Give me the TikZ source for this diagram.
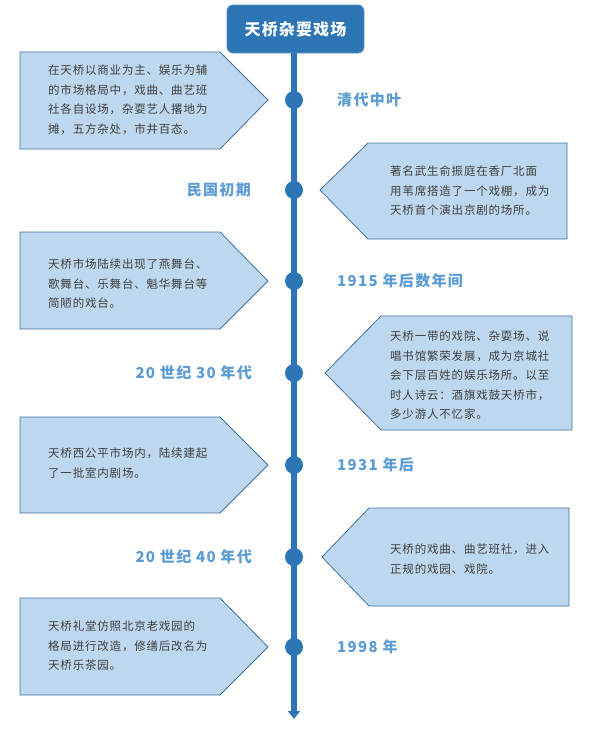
\documentclass[tikz,border=0pt]{standalone}
\usepackage{fontspec}
\setmainfont{Noto Sans CJK SC}
\usetikzlibrary{arrows.meta}
\definecolor{dblue}{HTML}{2E75B6}
\definecolor{lblue}{HTML}{BDD7EE}
\definecolor{bord}{HTML}{41719C}
\definecolor{lab}{HTML}{5B9BD5}
\definecolor{txt}{HTML}{404040}
\begin{document}
\begin{tikzpicture}[x=1pt,y=-1pt,
  evbox/.style={fill=lblue,draw=bord,line width=0.8pt},
  evtext/.style={anchor=north west,align=left,text=txt,font=\fontsize{11.5}{19.5}\selectfont\addfontfeature{LetterSpace=7},inner sep=0pt},
  datelab/.style={text=lab,font=\fontsize{15}{18}\selectfont\bfseries\addfontfeature{LetterSpace=9},inner sep=0pt},
  tdot/.style={circle,fill=dblue,minimum size=18pt,inner sep=0pt},
  titlebox/.style={rectangle,rounded corners=6pt,fill=dblue,draw=dblue!80!white,line width=0.8pt,text=white,font=\fontsize{16}{18}\selectfont\bfseries\addfontfeature{LetterSpace=7},minimum width=137pt,minimum height=48pt}]
\useasboundingbox (0,0) rectangle (596,732);

% title and timeline
\node[titlebox] (title) at (295.5,29) {天桥杂耍戏场};
\coordinate (tend) at (294,719);
\draw[dblue,line width=6pt,-{Triangle[width=12pt,length=8pt]}] (title.south -| tend) -- (tend);

% dots
\node[tdot] (d1) at (294,100) {};
\node[tdot] (d2) at (294,190) {};
\node[tdot] (d3) at (294,281) {};
\node[tdot] (d4) at (294,373) {};
\node[tdot] (d5) at (294,465) {};
\node[tdot] (d6) at (294,557) {};
\node[tdot] (d7) at (294,647) {};

% date labels
\node[datelab,anchor=west] (l1) at (337,100) {清代中叶};
\node[datelab,anchor=east] (l2) at (251,190) {民国初期};
\node[datelab,anchor=west] (l3) at (337,281) {1915 年后数年间};
\node[datelab,anchor=east] (l4) at (252,373) {20 世纪 30 年代};
\node[datelab,anchor=west] (l5) at (337,465) {1931 年后};
\node[datelab,anchor=east] (l6) at (252,557) {20 世纪 40 年代};
\node[datelab,anchor=west] (l7) at (337,647) {1998 年};

% boxes
\draw[evbox] (20,52) -- (220,52) -- (268,100) -- (220,149) -- (20,149) -- cycle;
\draw[evbox] (368,143) -- (567,143) -- (567,239) -- (368,239) -- (320,190) -- cycle;
\draw[evbox] (20,232) -- (220,232) -- (268,281) -- (220,329) -- (20,329) -- cycle;
\draw[evbox] (381,316) -- (572,316) -- (572,430) -- (381,430) -- (325,373) -- cycle;
\draw[evbox] (20,417) -- (220,417) -- (268,465) -- (220,513) -- (20,513) -- cycle;
\draw[evbox] (369,508) -- (569,508) -- (569,606) -- (369,606) -- (322,557) -- cycle;
\draw[evbox] (20,598) -- (220,598) -- (268,647) -- (220,695) -- (20,695) -- cycle;

% box texts
\node[evtext] (t1) at (48,65) {在天桥以商业为主、娱乐为辅\\的市场格局中，戏曲、曲艺班\\社各自设场，杂耍艺人撂地为\\摊，五方杂处，市井百态。};
\node[evtext] (t2) at (390,166) {著名武生俞振庭在香厂北面\\用苇席搭造了一个戏棚，成为\\天桥首个演出京剧的场所。};
\node[evtext] (t3) at (48,259) {天桥市场陆续出现了燕舞台、\\歌舞台、乐舞台、魁华舞台等\\简陋的戏台。};
\node[evtext] (t4) at (390,331) {天桥一带的戏院、杂耍场、说\\唱书馆繁荣发展，成为京城社\\会下层百姓的娱乐场所。以至\\时人诗云：酒旗戏鼓天桥市，\\多少游人不忆家。};
\node[evtext] (t5) at (48,448) {天桥西公平市场内，陆续建起\\了一批室内剧场。};
\node[evtext] (t6) at (390,544) {天桥的戏曲、曲艺班社，进入\\正规的戏园、戏院。};
\node[evtext] (t7) at (48,621) {天桥礼堂仿照北京老戏园的\\格局进行改造，修缮后改名为\\天桥乐茶园。};
\end{tikzpicture}
\end{document}
